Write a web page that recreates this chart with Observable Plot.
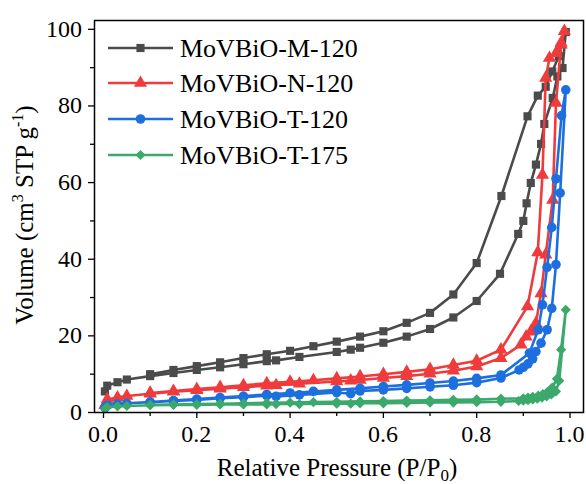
<!DOCTYPE html>
<html><head><meta charset="utf-8">
<script src="https://cdn.jsdelivr.net/npm/d3@7"></script>
<script src="https://cdn.jsdelivr.net/npm/@observablehq/plot@0.6"></script>
<style>
body{margin:0;background:#fff}
#chart{width:586px;height:484px}
</style>
</head><body><div id="chart"></div>
<script>
// Series names, colours and symbols
const names = ["MoVBiO-M-120", "MoVBiO-N-120", "MoVBiO-T-120", "MoVBiO-T-175"];
const colors = ["#4b4b4b", "#ef3b3c", "#1d6fdf", "#3aa96b"];
const symbols = ["square", "triangle", "circle", "diamond2"];
const sizes = [4.6, 4.9, 4.8, 4.6];

// Tick values
const xTicks = [0, 0.2, 0.4, 0.6, 0.8, 1.0];
const xMinor = [0.1, 0.3, 0.5, 0.7, 0.9];
const yTicks = [0, 20, 40, 60, 80, 100];
const yMinor = [10, 30, 50, 70, 90];

// MoVBiO-M-120 (adsorption then desorption)
const mP = [0.003,0.008,0.03,0.05,0.10,0.15,0.20,0.25,0.30,0.35,0.37,0.42,0.50,0.53,0.55,0.60,0.65,0.70,0.75,0.80,0.85,0.889,0.900,0.907,0.916,0.927,0.938,0.945,0.963,0.973,0.984,0.991,
            0.976,0.962,0.948,0.931,0.909,0.853,0.80,0.75,0.70,0.65,0.60,0.55,0.50,0.45,0.40,0.35,0.30,0.25,0.20,0.15,0.10];
const mV = [5.5,7.0,7.9,8.6,9.5,10.3,11.1,11.8,12.6,13.4,13.6,14.5,15.8,16.4,16.9,18.2,19.8,21.8,24.8,29.1,36.2,46.6,50.0,54.6,59.9,64.7,70.1,75.3,82.1,87.7,89.9,99.3,
            93.0,89.0,85.0,82.7,77.3,56.5,39.0,30.8,26.0,23.4,21.2,19.8,18.5,17.3,16.1,15.2,14.2,13.1,12.1,11.1,10.0];

// MoVBiO-N-120
const nP = [0.003,0.008,0.03,0.05,0.10,0.15,0.20,0.25,0.30,0.35,0.37,0.42,0.50,0.53,0.55,0.60,0.65,0.70,0.75,0.80,0.852,0.895,0.906,0.916,0.927,0.938,0.948,0.963,0.970,0.981,0.988,
            0.981,0.970,0.956,0.948,0.941,0.931,0.909,0.852,0.80,0.75,0.70,0.65,0.60,0.55,0.50,0.45,0.40,0.35,0.30,0.25,0.20,0.15,0.10];
const nV = [1.9,3.4,3.9,4.3,4.9,5.4,5.8,6.2,6.6,7.0,7.1,7.5,8.1,8.3,8.5,9.0,9.5,10.1,10.9,12.0,14.2,17.7,19.8,21.1,23.3,31.1,41.2,55.5,80.8,96.0,99.5,
            96.5,93.8,92.5,87.3,62.0,41.8,27.7,16.4,13.5,12.4,11.3,10.6,10.0,9.4,8.9,8.4,8.0,7.6,7.1,6.6,6.1,5.6,5.1];

// MoVBiO-T-120
const tP = [0.003,0.008,0.03,0.05,0.10,0.15,0.20,0.25,0.30,0.35,0.37,0.42,0.50,0.53,0.55,0.60,0.65,0.70,0.75,0.80,0.852,0.891,0.900,0.910,0.920,0.927,0.938,0.951,0.961,0.970,0.979,0.991,
            0.982,0.970,0.961,0.951,0.941,0.932,0.913,0.852,0.80,0.75,0.70,0.65,0.60,0.55,0.50,0.45,0.40,0.35,0.30,0.25,0.20,0.15,0.10];
const tV = [1.3,1.9,2.2,2.4,2.7,3.0,3.3,3.7,4.0,4.4,4.2,4.6,5.2,4.9,5.6,5.9,6.3,6.7,7.1,7.8,9.0,11.1,11.8,12.7,14.0,15.9,18.1,21.6,27.2,38.6,57.3,84.2,
            77.5,61.0,48.3,37.9,28.1,21.6,15.5,9.8,8.9,8.2,7.7,7.2,6.8,6.3,5.9,5.5,5.1,4.7,4.3,3.9,3.5,3.1,2.7];

// MoVBiO-T-175
const gP = [0.003,0.008,0.03,0.05,0.10,0.15,0.20,0.25,0.30,0.35,0.37,0.42,0.50,0.53,0.55,0.60,0.65,0.70,0.75,0.80,0.852,0.89,0.90,0.91,0.92,0.93,0.94,0.95,0.96,0.97,0.977,0.991,
            0.981,0.972,0.962,0.952,0.942,0.932,0.92,0.91,0.90,0.852,0.80,0.75,0.70,0.65,0.60,0.55,0.50,0.45,0.40,0.35,0.30,0.25,0.20,0.15,0.10];
const gV = [1.0,1.4,1.6,1.7,1.9,2.0,2.0,2.1,2.1,2.1,2.2,2.2,2.3,2.3,2.4,2.4,2.5,2.6,2.6,2.7,2.8,3.0,3.1,3.2,3.4,3.6,3.9,4.2,4.7,5.5,8.3,26.8,
            16.4,8.8,6.5,5.4,4.8,4.4,4.1,3.9,3.7,3.6,3.4,3.3,3.2,3.1,3.0,2.9,2.8,2.7,2.6,2.5,2.4,2.3,2.2,2.1,2.0];

const seriesP = [mP, nP, tP, gP];
const seriesV = [mV, nV, tV, gV];

const tables = names.map((name, i) => seriesP[i].map((p, j) => ({name, p, v: seriesV[i][j]})));

const font = "Liberation Serif";

const marks = [];
tables.forEach((rows, i) => {
  marks.push(Plot.line(rows, {x: "p", y: "v", stroke: colors[i], strokeWidth: 2.6, curve: "linear"}));
  marks.push(Plot.dot(rows, {x: "p", y: "v", fill: colors[i], stroke: "none", symbol: () => symbols[i], r: sizes[i]}));
});

const plot = Plot.plot({
  width: 586, height: 484,
  marginLeft: 94, marginRight: 3, marginTop: 20, marginBottom: 72,
  style: {background: "#fff", color: "#000"},
  x: {domain: [-0.0193, 1.029]},
  y: {domain: [0, 102.3]},
  symbol: {domain: symbols, range: symbols},
  marks: [
    Plot.axisX(xTicks, {tickSize: 6, tickFormat: () => "", label: null, strokeWidth: 1.3}),
    Plot.axisX(xMinor, {tickSize: 4, tickFormat: () => "", label: null, strokeWidth: 1.3}),
    Plot.axisY(yTicks, {tickSize: 6, tickFormat: () => "", label: null, strokeWidth: 1.3}),
    Plot.axisY(yMinor, {tickSize: 4, tickFormat: () => "", label: null, strokeWidth: 1.3}),
    ...marks,
    Plot.frame({stroke: "#000", strokeWidth: 1.5})
  ]
});

document.getElementById("chart").appendChild(plot);

const svg = d3.select(plot);
const sx = plot.scale("x"), sy = plot.scale("y");

// Tick labels placed through Plot's own scales
const tl = svg.append("g");
xTicks.forEach(t => {
  tl.append("text").attr("x", sx.apply(t)).attr("y", 412 + 6 + 5).attr("dy", "0.8em")
    .attr("text-anchor", "middle").attr("font-family", font).attr("font-size", 24).attr("fill", "#000")
    .text(d3.format(".1f")(t));
});
yTicks.forEach(t => {
  tl.append("text").attr("x", 94 - 6 - 6).attr("y", sy.apply(t)).attr("dy", "0.33em")
    .attr("text-anchor", "end").attr("font-family", font).attr("font-size", 24).attr("fill", "#000")
    .text(String(t));
});

// X axis title
const xt = svg.append("text").attr("x", 337).attr("y", 476).attr("text-anchor", "middle")
  .attr("font-family", font).attr("font-size", 25).attr("fill", "#000");
xt.append("tspan").text("Relative Pressure (P/P");
xt.append("tspan").attr("font-size", 17).attr("dy", 5).text("0");
xt.append("tspan").attr("dy", -5).text(")");

// Y axis title
const yt = svg.append("text").attr("transform", "translate(33,215) rotate(-90)").attr("text-anchor", "middle")
  .attr("font-family", font).attr("font-size", 25).attr("fill", "#000");
yt.append("tspan").text("Volume (cm");
yt.append("tspan").attr("font-size", 16).attr("dy", -10).text("3");
yt.append("tspan").attr("dy", 10).text(" STP g");
yt.append("tspan").attr("font-size", 16).attr("dy", -10).text("-1");
yt.append("tspan").attr("dy", 10).text(")");

// Legend
const lg = svg.append("g");
const rowsY = [48, 83, 119, 155];
const symMap = {square: d3.symbolSquare, triangle: d3.symbolTriangle, circle: d3.symbolCircle, diamond2: d3.symbolDiamond2};
names.forEach((name, i) => {
  const y = rowsY[i];
  lg.append("line").attr("x1", 108).attr("x2", 173).attr("y1", y).attr("y2", y)
    .attr("stroke", colors[i]).attr("stroke-width", 2.6);
  lg.append("path").attr("transform", `translate(140.5,${y})`)
    .attr("d", d3.symbol(symMap[symbols[i]], Math.PI * sizes[i] * sizes[i])())
    .attr("fill", colors[i]);
  lg.append("text").attr("x", 180).attr("y", y).attr("dy", "0.35em").attr("text-anchor", "start")
    .attr("font-family", font).attr("font-size", 26).attr("fill", "#000").text(name);
});
</script>
</body></html>
